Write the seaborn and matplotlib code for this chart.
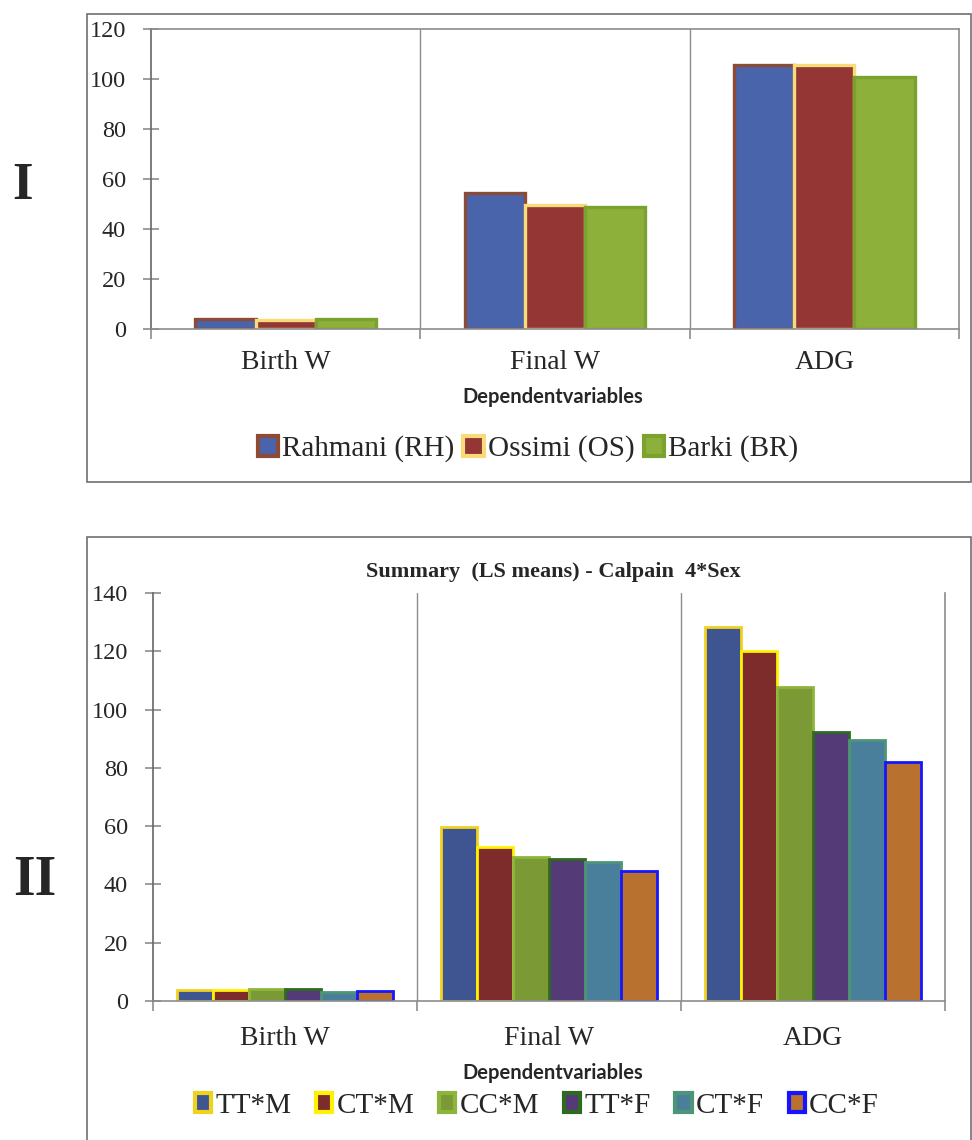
import matplotlib
matplotlib.use("Agg")
import matplotlib.pyplot as plt
from matplotlib.patches import Patch, Rectangle
import pandas as pd
import seaborn as sns

sns.set_theme(style="white")
plt.rcParams["font.family"] = ["Liberation Serif", "DejaVu Serif"]

VARIABLES = ["Birth W", "Final W", "ADG"]

# panel I : breeds
BREEDS = ["Rahmani (RH)", "Ossimi (OS)", "Barki (BR)"]
RH_VALUES = [4.2, 54.5, 105.5]
OS_VALUES = [3.5, 49.6, 105.6]
BR_VALUES = [4.1, 48.7, 100.7]
BREED_FACE = ["#4A64AC", "#943634", "#8DB03B"]
BREED_EDGE = ["#8B4B36", "#F8DC7A", "#7BA12E"]

# panel II : calpain 4 genotype * sex
GENOTYPES = ["TT*M", "CT*M", "CC*M", "TT*F", "CT*F", "CC*F"]
TTM_VALUES = [3.8, 59.6, 128.4]
CTM_VALUES = [3.8, 53.0, 120.1]
CCM_VALUES = [4.1, 49.4, 107.6]
TTF_VALUES = [4.1, 48.6, 92.4]
CTF_VALUES = [3.2, 47.8, 89.6]
CCF_VALUES = [3.4, 44.5, 82.0]
GENO_FACE = ["#3E5592", "#7D2B2B", "#7B9A36", "#543B78", "#4A7F9B", "#B8712F"]
GENO_EDGE = ["#F0D21E", "#FFF200", "#8DB53C", "#2F6B1F", "#4E9577", "#1515FF"]

W, H = 972, 1140
GRID = "#8C8C8C"


def long_frame(names, series):
    rows = []
    for name, vals in zip(names, series):
        for var, v in zip(VARIABLES, vals):
            rows.append({"variable": var, "group": name, "value": v})
    return pd.DataFrame(rows)


def fx(px):
    return px / W


def fy(py):
    return 1 - py / H


def draw_panel(ax, df, names, faces, edges, width, ymax, lw, top_spine):
    sns.barplot(data=df, x="variable", y="value", hue="group",
                order=VARIABLES, hue_order=names, palette=faces,
                width=width, saturation=1, legend=False, errorbar=None, ax=ax)
    for cont, ec in zip(ax.containers, edges):
        for bar in cont:
            bar.set_edgecolor(ec)
            bar.set_linewidth(lw)
    ax.set_xlim(-0.5, 2.5)
    ax.set_ylim(0, ymax)
    ax.set_yticks(range(0, ymax + 1, 20))
    ax.set_xticks([0, 1, 2])
    ax.set_xticklabels(VARIABLES)
    ax.set_xticks([-0.5, 0.5, 1.5, 2.5], minor=True)
    ax.set_xlabel("")
    ax.set_ylabel("")
    for x in (0.5, 1.5):
        ax.axvline(x, color=GRID, lw=1.0, zorder=0)
    ax.tick_params(axis="x", which="major", bottom=True, length=0,
                   labelsize=20)
    ax.tick_params(axis="x", which="minor", bottom=True, length=7,
                   width=1.2, color=GRID, direction="out")
    ax.tick_params(axis="y", which="major", left=True, length=12, width=1.2,
                   color=GRID, direction="inout", labelsize=17.5, pad=12)
    for name, sp in ax.spines.items():
        sp.set_color(GRID)
        sp.set_linewidth(1.2)
    ax.spines["left"].set_color("#666666")
    ax.spines["top"].set_visible(top_spine)


fig = plt.figure(figsize=(W / 100, H / 100), dpi=100)

# outer frames
fig.add_artist(Rectangle((fx(87), fy(482)), fx(971) - fx(87), fy(14) - fy(482),
                         transform=fig.transFigure, fill=False,
                         edgecolor="#707070", lw=1.2))
fig.add_artist(Rectangle((fx(87), -0.02), fx(971) - fx(87), fy(537) + 0.02,
                         transform=fig.transFigure, fill=False,
                         edgecolor="#707070", lw=1.2))

# panel I
ax1 = fig.add_axes([fx(151), fy(329), fx(959) - fx(151), fy(29) - fy(329)])
df1 = long_frame(BREEDS, [RH_VALUES, OS_VALUES, BR_VALUES])
draw_panel(ax1, df1, BREEDS, BREED_FACE, BREED_EDGE, 0.67, 120, 2.4, True)
ax1.tick_params(axis="x", which="major", pad=15)
fig.text(fx(553), fy(397), "Dependentvariables", ha="center", va="center",
         fontsize=14.5, fontweight="bold", family=["Lato", "DejaVu Sans"])
fig.legend(handles=[Patch(facecolor=f, edgecolor=e, linewidth=3.0)
                    for f, e in zip(BREED_FACE, BREED_EDGE)],
           labels=BREEDS, loc="center", bbox_to_anchor=(fx(528), fy(449)),
           ncol=3, frameon=False, fontsize=21, handlelength=0.7,
           handleheight=0.7, handletextpad=0.15, columnspacing=0.3)
fig.text(fx(22), fy(186), "I", ha="center", va="center",
         fontsize=38, fontweight="bold")

# panel II
ax2 = fig.add_axes([fx(153), fy(1001), fx(945) - fx(153), fy(593) - fy(1001)])
df2 = long_frame(GENOTYPES, [TTM_VALUES, CTM_VALUES, CCM_VALUES,
                             TTF_VALUES, CTF_VALUES, CCF_VALUES])
draw_panel(ax2, df2, GENOTYPES, GENO_FACE, GENO_EDGE, 0.82, 140, 2.0, False)
ax2.tick_params(axis="x", which="major", pad=18)
fig.text(fx(553), fy(572), "Summary  (LS means) - Calpain  4*Sex",
         ha="center", va="center", fontsize=16, fontweight="bold")
fig.text(fx(553), fy(1073), "Dependentvariables", ha="center", va="center",
         fontsize=14.5, fontweight="bold", family=["Lato", "DejaVu Sans"])
fig.legend(handles=[Patch(facecolor=f, edgecolor=e, linewidth=3.0)
                    for f, e in zip(GENO_FACE, GENO_EDGE)],
           labels=GENOTYPES, loc="center", bbox_to_anchor=(fx(537), fy(1106)),
           ncol=6, frameon=False, fontsize=21, handlelength=0.55,
           handleheight=0.65, handletextpad=0.15, columnspacing=0.85)
fig.text(fx(35), fy(881), "II", ha="center", va="center",
         fontsize=40, fontweight="bold")

fig.savefig("out.png", dpi=100, facecolor="white")
